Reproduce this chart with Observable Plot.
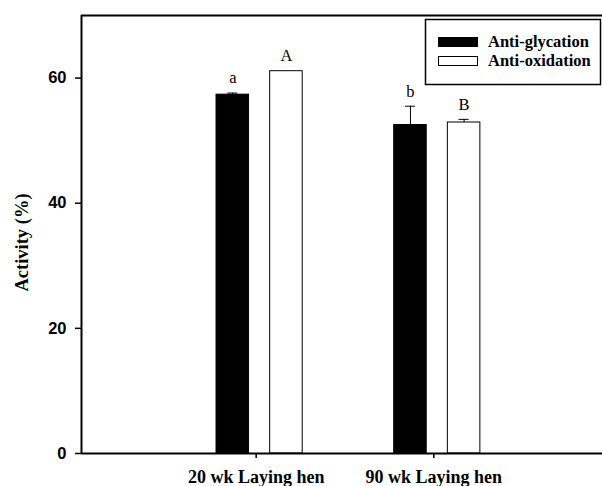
<!DOCTYPE html>
<html>
<head>
<meta charset="utf-8">
<script src="https://cdn.jsdelivr.net/npm/d3@7"></script>
<script src="https://cdn.jsdelivr.net/npm/@observablehq/plot@0.6"></script>
<style>
  html, body { margin: 0; padding: 0; background: white; }
  #wrap { position: relative; width: 602px; height: 486px; overflow: hidden; }
  #legend { position: absolute; left: 0; top: 0; pointer-events: none; }
</style>
</head>
<body>
<div id="wrap"></div>
<script>
// ---- data ----
const groups = ["20 wk Laying hen", "90 wk Laying hen"];
const seriesNames = ["Anti-glycation", "Anti-oxidation"];
const glycation = [57.35, 52.5];
const glycationErr = [0.25, 3.0];
const oxidation = [61.1, 52.9];
const oxidationErr = [0, 0.5];
const glycationLetters = ["a", "b"];
const oxidationLetters = ["A", "B"];
const yTicks = [0, 20, 40, 60];
const seriesColors = ["black", "white"];

// ---- table ----
const rows = [];
groups.forEach((g, i) => {
  rows.push({pos: i + 1, s: 0, series: seriesNames[0], value: glycation[i], err: glycationErr[i], letter: glycationLetters[i]});
  rows.push({pos: i + 1, s: 1, series: seriesNames[1], value: oxidation[i], err: oxidationErr[i], letter: oxidationLetters[i]});
});

// layout (in x units; one group step)
const barStart = [-0.24, 0.062];
const barWidth = 0.183;
const capHalf = 0.028;
const barX1 = d => d.pos + barStart[d.s];
const barX2 = d => d.pos + barStart[d.s] + barWidth;
const barXC = d => d.pos + barStart[d.s] + barWidth / 2;
const errTop = d => d.value + d.err;

const serif = "'Liberation Serif', 'Times New Roman', Times, serif";
const sans = "'Liberation Sans', Arial, Helvetica, sans-serif";

const withErr = rows.filter(d => d.err > 0);

const chart = Plot.plot({
  width: 602,
  height: 486,
  marginLeft: 81,
  marginRight: 0,
  marginTop: 15,
  marginBottom: 33,
  x: {type: "linear", domain: [0, 3], range: [81, 614]},
  y: {domain: [0, 70]},
  color: {domain: seriesNames, range: seriesColors},
  style: {background: "white", overflow: "hidden"},
  marks: [
    Plot.rect(rows, {x1: barX1, x2: barX2, y1: 0, y2: "value", fill: "series", stroke: "black", strokeWidth: 1}),
    Plot.ruleX(withErr, {x: barXC, y1: "value", y2: errTop, stroke: "black", strokeWidth: 1}),
    Plot.ruleY(withErr, {y: errTop, x1: d => barXC(d) - capHalf, x2: d => barXC(d) + capHalf, stroke: "black", strokeWidth: 1}),
    Plot.text(rows, {x: barXC, y: errTop, text: "letter", dy: -15, fontFamily: serif, fontSize: 16.5, fill: "black"}),
    Plot.axisY({ticks: yTicks, tickSize: 6, tickPadding: 9, strokeWidth: 1.5, fontSize: 16.5, fontWeight: "bold", fontFamily: sans, label: null, fill: "black"}),
    Plot.axisX({ticks: [1, 2], tickFormat: i => groups[i - 1], tickSize: 5, tickPadding: 12, dx: -3, strokeWidth: 1.5, fontSize: 18, fontWeight: "bold", fontFamily: serif, label: null, fill: "black"}),
    Plot.text(["Activity (%)"], {frameAnchor: "left", textAnchor: "middle", lineAnchor: "middle", rotate: -90, dx: -59, dy: 8, text: d => d, fontFamily: serif, fontWeight: "bold", fontSize: 18.5, fill: "black"}),
    Plot.ruleX([0], {stroke: "black", strokeWidth: 2}),
    Plot.ruleY([0], {stroke: "black", strokeWidth: 2}),
    Plot.ruleY([70], {stroke: "black", strokeWidth: 2})
  ]
});
document.getElementById("wrap").appendChild(chart);

// ---- legend overlay ----
const leg = d3.select("#wrap").append("svg")
  .attr("id", "legend").attr("width", 602).attr("height", 486);
leg.append("rect").attr("x", 425.5).attr("y", 19.5).attr("width", 175).attr("height", 65)
  .attr("fill", "white").attr("stroke", "black").attr("stroke-width", 1.5);
seriesNames.forEach((name, i) => {
  leg.append("rect").attr("x", 438.5).attr("y", 37.5 + i * 19).attr("width", 39).attr("height", 9)
    .attr("fill", seriesColors[i]).attr("stroke", "black").attr("stroke-width", 1);
  leg.append("text").attr("x", 488).attr("y", 47 + i * 19).text(name)
    .attr("font-family", serif).attr("font-weight", "bold").attr("font-size", 16.5).attr("fill", "black");
});
</script>
</body>
</html>
